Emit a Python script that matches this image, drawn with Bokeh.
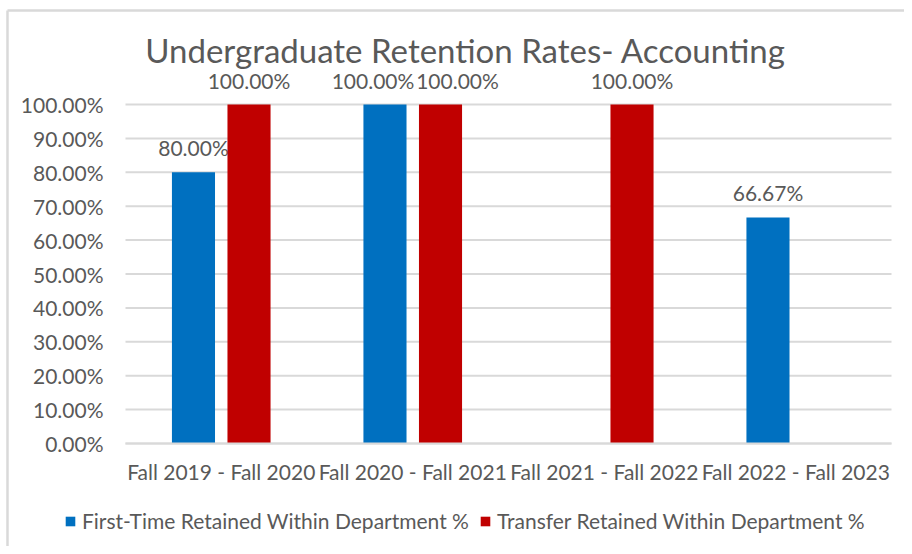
from bokeh.plotting import figure
from bokeh.models import (ColumnDataSource, Range1d, FixedTicker, NumeralTickFormatter,
                          Legend, LegendItem)
from bokeh.core.properties import value
from bokeh.embed import file_html
from bokeh.resources import INLINE

title = "Undergraduate Retention Rates- Accounting"
categories = ["Fall 2019 - Fall 2020", "Fall 2020 - Fall 2021",
              "Fall 2021 - Fall 2022", "Fall 2022 - Fall 2023"]
series_names = ["First-Time Retained Within Department %",
                "Transfer Retained Within Department %"]
first_time = [0.80, 1.00, None, 0.6667]
transfer = [1.00, 1.00, 1.00, None]
y_ticks = [0.0, 0.1, 0.2, 0.3, 0.4, 0.5, 0.6, 0.7, 0.8, 0.9, 1.0]

FONT = "Lato"
GRAY = "#595959"
GRID = "#d9d9d9"
colors = ["#0070C0", "#C00000"]
offsets = [-0.145, 0.145]
collide_nudge = [-12, 17]   # px shift of data labels when both labels sit at the same height
BAR_W = 0.225
FS = "21px"
N = len(categories)

X0, X1 = -0.6527, 4.0679
Y0, Y1 = -0.3038, 1.3068

p = figure(width=904, height=546, output_backend="svg", toolbar_location=None,
           x_range=Range1d(X0, X1), y_range=Range1d(Y0, Y1), min_border=0)
p.outline_line_color = None
p.background_fill_color = "white"
p.border_fill_color = "white"

# chart-area border (top and left edges)
BX, BY = -0.6162, 1.2773
p.segment(x0=[BX, BX], y0=[BY, BY], x1=[X1, BX], y1=[BY, Y0],
          line_color="#d9d9d9", line_width=2.5)

# horizontal gridlines over the category span only
p.segment(x0=[0] * len(y_ticks), x1=[N] * len(y_ticks), y0=y_ticks, y1=y_ticks,
          line_color=GRID, line_width=2)

renderers = []
for s, (vals, col, off) in enumerate(zip([first_time, transfer], colors, offsets)):
    other = transfer if s == 0 else first_time
    xs, ys, labels, nudges = [], [], [], []
    for i, v in enumerate(vals):
        if v is None:
            continue
        xs.append(i + 0.5 + off)
        ys.append(v)
        labels.append(f"{v:.2%}")
        nudges.append(collide_nudge[s] if other[i] is not None and abs(other[i] - v) < 0.05 else 0)
    src = ColumnDataSource(dict(x=xs, top=ys, label=labels, nudge=nudges))
    r = p.vbar(x="x", top="top", width=BAR_W, bottom=0, source=src,
               fill_color=col, line_color=None)
    renderers.append(r)
    p.text(x="x", y="top", text="label", source=src, x_offset="nudge", y_offset=-12,
           text_align="center", text_baseline="bottom",
           text_font=value(FONT), text_font_size=FS, text_color=GRAY)

# title drawn in data space
p.text(x=[1.776], y=[1.16], text=[title], text_align="center", text_baseline="middle",
       text_font=value(FONT), text_font_size="33px", text_color=GRAY)

# axes, pinned to the data origin
p.xaxis.fixed_location = 0
p.xaxis.bounds = (0, N)
p.xaxis.ticker = FixedTicker(ticks=[i + 0.5 for i in range(N)])
p.xaxis.major_label_overrides = {i + 0.5: c for i, c in enumerate(categories)}
p.xaxis.axis_line_color = GRID
p.xaxis.axis_line_width = 2
p.xaxis.major_tick_line_color = None
p.xaxis.minor_tick_line_color = None
p.xaxis.major_label_text_font = FONT
p.xaxis.major_label_text_font_size = FS
p.xaxis.major_label_text_color = GRAY
p.xaxis.major_label_standoff = 9

p.yaxis.fixed_location = 0
p.yaxis.bounds = (0, 1)
p.yaxis.ticker = FixedTicker(ticks=y_ticks)
p.yaxis.formatter = NumeralTickFormatter(format="0.00%")
p.yaxis.axis_line_color = None
p.yaxis.major_tick_line_color = None
p.yaxis.minor_tick_line_color = None
p.yaxis.major_label_text_font = FONT
p.yaxis.major_label_text_font_size = FS
p.yaxis.major_label_text_color = GRAY
p.yaxis.major_label_standoff = 16

p.xgrid.grid_line_color = None
p.ygrid.grid_line_color = None

legend = Legend(items=[LegendItem(label=n, renderers=[r]) for n, r in zip(series_names, renderers)],
                orientation="horizontal", location=(64, 13))
legend.border_line_color = None
legend.background_fill_alpha = 0
legend.glyph_width = 12
legend.glyph_height = 12
legend.label_text_font = FONT
legend.label_text_font_size = FS
legend.label_text_color = GRAY
legend.label_standoff = 6
legend.spacing = 10
legend.padding = 0
legend.margin = 0
p.add_layout(legend)

open("out.html", "w").write(file_html(p, INLINE))
